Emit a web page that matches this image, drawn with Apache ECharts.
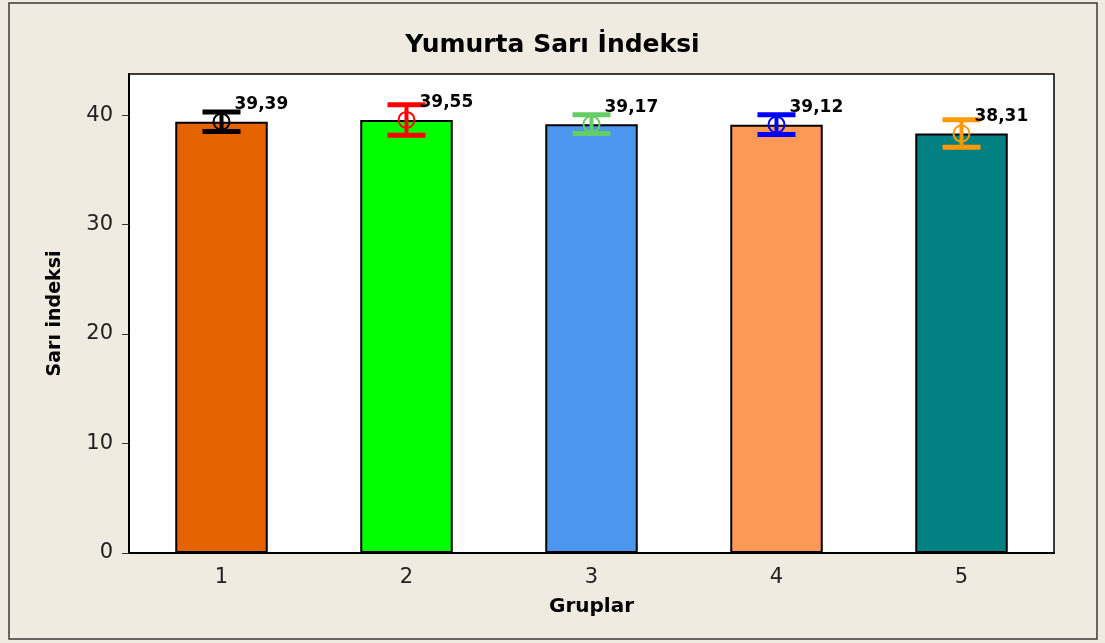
<!DOCTYPE html>
<html>
<head>
<meta charset="utf-8">
<script src="https://cdn.jsdelivr.net/npm/echarts@6/dist/echarts.min.js"></script>
<style>
  html, body { margin: 0; padding: 0; background: #f0ebe1; }
  #chart { width: 1105px; height: 643px; }
</style>
</head>
<body>
<div id="chart"></div>
<script>
// veriler
const groups = ['1', '2', '3', '4', '5']
const means = [39.39, 39.55, 39.17, 39.12, 38.31]
const errors = [0.9, 1.4, 0.85, 0.9, 1.25]
const meanLabels = ['39,39', '39,55', '39,17', '39,12', '38,31']
const barColors = ['#e66400', '#00ff00', '#4d96f0', '#ff9955', '#008080']
const errColors = ['#000000', '#ff0000', '#66cc66', '#0000ff', '#ff9900']
const yTicks = [0, 10, 20, 30, 40]

const font = 'Verdana, "DejaVu Sans", sans-serif'
const chart = echarts.init(document.getElementById('chart'))

const errData = means.map((m, i) => [i, m, errors[i]])

const option = {
  backgroundColor: '#f0ebe1',
  animation: false,
  title: {
    text: 'Yumurta Sarı İndeksi',
    left: 'center',
    top: 28,
    textStyle: { fontFamily: font, fontSize: 25, fontWeight: 'bold', color: '#000' }
  },
  graphic: [{
    type: 'rect',
    shape: { x: 9, y: 3, width: 1088, height: 636 },
    style: { fill: 'none', stroke: '#3a3a3a', lineWidth: 1.5 },
    silent: true
  }],
  grid: {
    left: 129, right: 51, top: 74, bottom: 90,
    show: true,
    backgroundColor: '#ffffff',
    borderColor: '#000000',
    borderWidth: 1.5
  },
  xAxis: {
    type: 'category',
    data: groups,
    name: 'Gruplar',
    nameLocation: 'middle',
    nameGap: 44,
    nameTextStyle: { fontFamily: font, fontSize: 20, fontWeight: 'bold', color: '#000' },
    axisLine: { lineStyle: { color: '#000', width: 2 } },
    axisTick: { alignWithLabel: true, length: 7, lineStyle: { color: '#333' } },
    axisLabel: { fontFamily: font, fontSize: 21, color: '#222', margin: 14 }
  },
  yAxis: {
    type: 'value',
    min: 0,
    max: 43.75,
    interval: 10,
    name: 'Sarı indeksi',
    nameLocation: 'middle',
    nameGap: 64,
    nameTextStyle: { fontFamily: font, fontSize: 19, fontWeight: 'bold', color: '#000' },
    axisLine: { show: true, lineStyle: { color: '#000', width: 2 } },
    axisTick: { show: true, length: 7, customValues: yTicks, lineStyle: { color: '#333' } },
    splitLine: { show: false },
    axisLabel: {
      fontFamily: font, fontSize: 21, color: '#222', margin: 16,
      customValues: yTicks
    }
  },
  series: [
    {
      type: 'bar',
      barWidth: '50%',
      data: means.map((m, i) => ({
        value: m,
        itemStyle: { color: barColors[i], borderColor: '#000', borderWidth: 2 }
      })),
      z: 2
    },
    {
      // hata çubukları + ortalama daireleri
      type: 'custom',
      data: errData,
      encode: { x: 0, y: 1 },
      z: 5,
      renderItem: (params, api) => {
        const x = api.value(0)
        const m = api.value(1)
        const e = api.value(2)
        const c = api.coord([x, m])
        const top = api.coord([x, m + e])
        const bot = api.coord([x, m - e])
        const col = errColors[params.dataIndex]
        const hw = 19
        return {
          type: 'group',
          children: [
            { type: 'line', shape: { x1: c[0], y1: top[1], x2: c[0], y2: bot[1] }, style: { stroke: col, lineWidth: 4 } },
            { type: 'line', shape: { x1: c[0] - hw, y1: top[1], x2: c[0] + hw, y2: top[1] }, style: { stroke: col, lineWidth: 5 } },
            { type: 'line', shape: { x1: c[0] - hw, y1: bot[1], x2: c[0] + hw, y2: bot[1] }, style: { stroke: col, lineWidth: 5 } },
            { type: 'circle', shape: { cx: c[0], cy: c[1], r: 8 }, style: { fill: 'none', stroke: col, lineWidth: 2 } },
            {
              type: 'text',
              x: c[0] + 13,
              y: c[1] - 17,
              style: {
                text: meanLabels[params.dataIndex],
                fill: '#000',
                font: 'bold 17px ' + font,
                align: 'left',
                verticalAlign: 'middle'
              }
            }
          ]
        }
      }
    }
  ]
}

chart.setOption(option)
</script>
</body>
</html>
